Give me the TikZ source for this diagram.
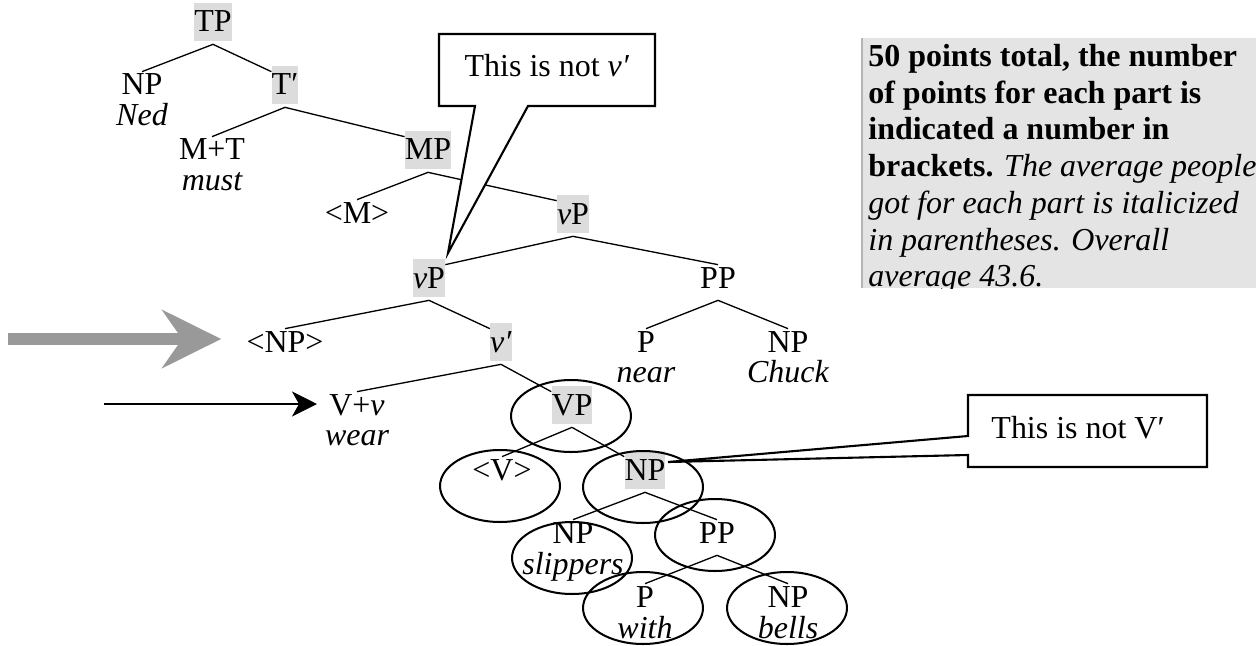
\documentclass[tikz,border=0pt]{standalone}
\usepackage{fontspec}
\setmainfont{Liberation Serif}
\usetikzlibrary{calc,arrows.meta}
\definecolor{hlgray}{HTML}{DCDCDC}
\definecolor{boxgray}{HTML}{E4E4E4}
\definecolor{edgegray}{HTML}{B4B4B4}
\definecolor{arrowgray}{HTML}{999999}
\newcommand\treefont{\fontsize{18.2}{20.9}\selectfont}
\tikzset{
  lbl/.style={anchor=base, inner sep=0pt, text height=0.58cm, text depth=0.18cm},
  hl/.style={lbl, fill=hlgray},
  word/.style={anchor=base, inner sep=0pt, font=\treefont\itshape, yshift=-0.62cm},
  branch/.style={line width=0.75pt},
  ring/.style={line width=1.15pt},
  note/.style={draw, line width=1.2pt, fill=white, line join=miter},
}
\begin{document}
\begin{tikzpicture}[x=0.02cm, y=-0.02cm, font=\treefont]
 \useasboundingbox (0,0) rectangle (1256,645);
 % score box
 \fill[boxgray] (862,38) rectangle (1256,288);
 \draw[edgegray, line width=0.6pt] (862,38) -- (862,288);
 \begin{scope}
  \clip (862,38) rectangle (1256,288);
  \node[anchor=base west, inner sep=0pt] (score) at (868,66.5) {\begin{tabular}[t]{@{}l@{}}
   \textbf{50 points total, the number}\\
   \textbf{of points for each part is}\\
   \textbf{indicated a number in}\\
   \textbf{brackets.} \textit{The average people}\\
   \textit{got for each part is italicized}\\
   \textit{in parentheses. Overall}\\
   \textit{average 43.6.}
  \end{tabular}};
 \end{scope}
 % tree labels
 \node[hl] (tp) at (213,32) {TP};
 \node[lbl] (npned) at (142,95) {NP};
 \node[word] (ned) at (npned.base) {Ned};
 \node[hl] (tbar) at (285,95) {T′};
 \node[lbl] (mt) at (212,160) {M+T};
 \node[word] (must) at (mt.base) {must};
 \node[hl] (mp) at (428,160) {MP};
 \node[lbl] (mtrace) at (357,223) {<M>};
 \node[hl] (vpup) at (573,224) {\textit{v}P};
 \node[hl] (vplow) at (429,288) {\textit{v}P};
 \node[lbl] (pp1) at (718,288) {PP};
 \node[lbl] (nptrace) at (285,352) {<NP>};
 \node[hl] (vbar) at (501,352) {\textit{v′}};
 \node[lbl] (p1) at (646,352) {P};
 \node[word] (near) at (p1.base) {near};
 \node[lbl] (npchuck) at (788,352) {NP};
 \node[word] (chuck) at (npchuck.base) {Chuck};
 \node[lbl] (vv) at (357,415) {V+\textit{v}};
 \node[word] (wear) at (vv.base) {wear};
 \node[hl] (vp) at (572,415) {VP};
 \node[lbl] (vtrace) at (502,480) {<V>};
 \node[hl] (npobj) at (645,480) {NP};
 \node[lbl] (npslip) at (573,543) {NP};
 \node[word] (slippers) at (npslip.base) {slippers};
 \node[lbl] (pp2) at (717,543) {PP};
 \node[lbl] (p2) at (645,607) {P};
 \node[word] (with) at (p2.base) {with};
 \node[lbl] (npbells) at (788,607) {NP};
 \node[word] (bells) at (npbells.base) {bells};
 % branches
 \foreach \p/\c/\a in {tp/npned/north, tp/tbar/north west, tbar/mt/north, tbar/mp/north west,
   mp/mtrace/north, mp/vpup/north west, vpup/vplow/north east, vpup/pp1/north,
   vplow/nptrace/north, vplow/vbar/north west, pp1/p1/north, pp1/npchuck/north,
   vbar/vv/north, vbar/vp/north west, vp/vtrace/north, vp/npobj/north west,
   npobj/npslip/north, npobj/pp2/north, pp2/p2/north, pp2/npbells/north}
  \draw[branch] ($(\p.south)+(0,3)$) -- ($(\c.\a)+(0,6)$);
 % circled constituents
 \foreach \n/\dx/\dy in {vp/-1/1, vtrace/-2/6, npobj/-2/7, npslip/-1/15, pp2/-2/-8, p2/-2/1, npbells/-1/1}
  \draw[ring] ($(\n.base)+(\dx,\dy)$) ellipse [x radius=1.2cm, y radius=0.72cm];
 % arrows
 \coordinate (gtail) at (8,339);
 \coordinate (btail) at (104,404);
 \draw[arrowgray, line width=0.24cm, shorten >=0.5cm,
   -{Stealth[length=1.18cm, width=1.16cm, inset=0.4cm]}] (gtail) -- (gtail -| nptrace.west);
 \draw[line width=1.1pt, shorten >=0.24cm,
   -{Stealth[length=0.5cm, width=0.5cm, inset=0.14cm]}] (btail) -- (btail -| vv.west);
 % callouts
 \draw[note] (439,34) -- (655,34) -- (655,106) -- (528,106) -- (448,253) -- (475,106) -- (439,106) -- cycle;
 \node[lbl] (notev) at (547,77) {This is not \textit{v′}};
 \draw[note] (968,395) -- (1207,395) -- (1207,467) -- (968,467) -- (968,455) -- (668,462) -- (968,436) -- cycle;
 \node[lbl] (noteV) at (1078,438) {This is not V′};
\end{tikzpicture}
\end{document}
